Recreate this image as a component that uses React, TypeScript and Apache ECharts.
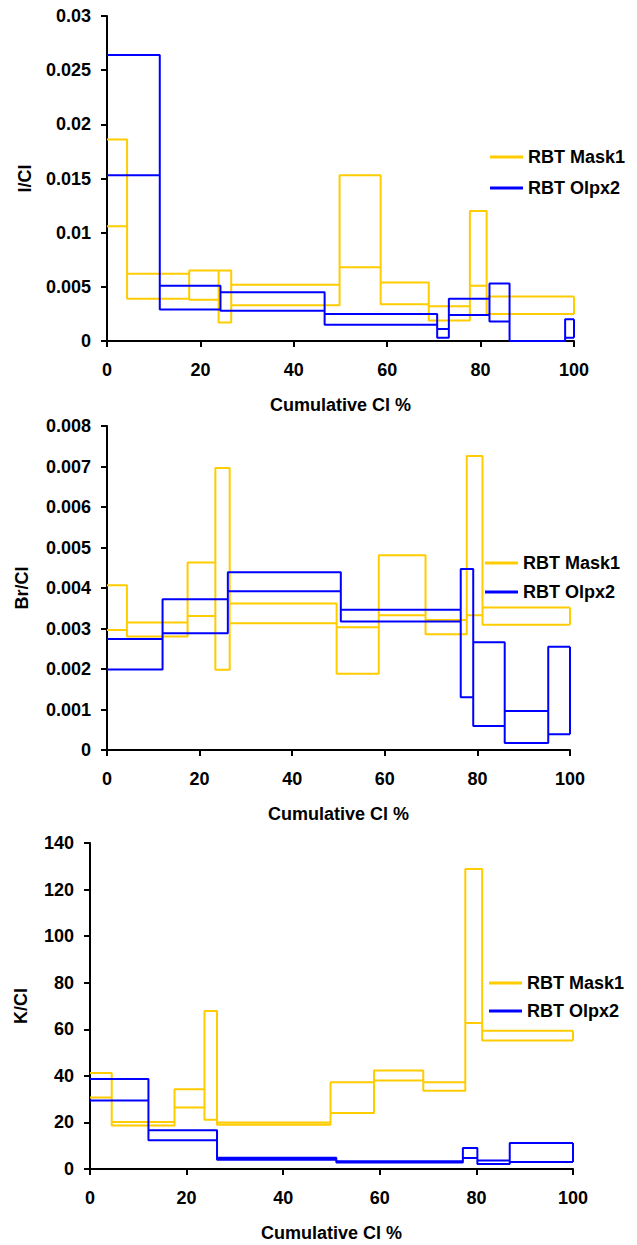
import React, { useEffect, useRef } from "react";
import * as echarts from "echarts";

// ---------- data ----------
const SERIES_NAMES = ["RBT Mask1", "RBT Olpx2"];
const X_TICKS = [0, 20, 40, 60, 80, 100];

// Panel 1: I/Cl
const I_MASK_EDGES = [0, 4.3, 17.6, 23.9, 26.6, 49.8, 58.6, 68.9, 77.7, 81.3, 100];
const I_MASK_HI = [0.0186, 0.0062, 0.0065, 0.0065, 0.0052, 0.0153, 0.0054, 0.0032, 0.012, 0.0041];
const I_MASK_LO = [0.0106, 0.0039, 0.0038, 0.0017, 0.0033, 0.0068, 0.0034, 0.0019, 0.0051, 0.0025];
const I_OLPX_EDGES = [0, 11.3, 24.3, 46.6, 70.7, 73.2, 81.9, 86.2, 98.1, 100];
const I_OLPX_HI = [0.0264, 0.0051, 0.0045, 0.0025, 0.0011, 0.0039, 0.0053, 0, 0.002];
const I_OLPX_LO = [0.0153, 0.0029, 0.0028, 0.0015, 0.0003, 0.0024, 0.0018, 0, 0.0003];

// Panel 2: Br/Cl
const BR_MASK_EDGES = [0, 4.3, 17.4, 23.4, 26.5, 49.6, 58.7, 68.8, 77.7, 81.1, 100];
const BR_MASK_HI = [0.00407, 0.00315, 0.00463, 0.00696, 0.00362, 0.00303, 0.00481, 0.00321, 0.00726, 0.00352];
const BR_MASK_LO = [0.00296, 0.0028, 0.00331, 0.00198, 0.00313, 0.00188, 0.00333, 0.00286, 0.00333, 0.00309];
const BR_OLPX_EDGES = [0, 12.0, 26.1, 50.5, 76.4, 79.1, 85.9, 95.3, 100];
const BR_OLPX_HI = [0.00274, 0.00372, 0.00439, 0.00346, 0.00447, 0.00266, 0.00096, 0.00255];
const BR_OLPX_LO = [0.00199, 0.00288, 0.00392, 0.00317, 0.0013, 0.00059, 0.00017, 0.00039];

// Panel 3: K/Cl
const K_MASK_EDGES = [0, 4.5, 17.5, 23.7, 26.3, 49.8, 58.8, 69.0, 77.7, 81.2, 100];
const K_MASK_HI = [41.2, 20.2, 34.3, 67.9, 20.0, 37.3, 42.3, 37.3, 128.8, 59.4];
const K_MASK_LO = [30.7, 18.7, 26.4, 21.2, 19.0, 24.0, 38.0, 33.6, 62.7, 55.2];
const K_OLPX_EDGES = [0, 12.1, 26.3, 51.0, 77.2, 80.2, 86.9, 100];
const K_OLPX_HI = [38.6, 16.6, 4.8, 3.3, 9.0, 3.7, 11.2];
const K_OLPX_LO = [29.4, 12.3, 4.0, 2.8, 4.7, 2.1, 3.0];

const Y_NAMES = ["I/Cl", "Br/Cl", "K/Cl"];
const Y_MAX = [0.03, 0.008, 140];
const Y_INTERVAL = [0.005, 0.001, 20];

// ---------- styling ----------
const FONT = '"Liberation Sans", Arial, sans-serif';
const YELLOW = "#FFCC00";
const BLUE = "#0000FF";

type Pt = [number | string, number | string];

function outline(edges: number[], hi: number[], lo: number[]): Pt[] {
  const pts: Pt[] = [];
  const gap = () => pts.push(["-", "-"]);
  for (let i = 0; i < hi.length; i++) {
    pts.push([edges[i], hi[i]]);
    pts.push([edges[i + 1], hi[i]]);
  }
  gap();
  for (let i = 0; i < lo.length; i++) {
    pts.push([edges[i], lo[i]]);
    pts.push([edges[i + 1], lo[i]]);
  }
  gap();
  for (let i = 1; i < edges.length; i++) {
    const vals = [hi[i - 1], lo[i - 1]];
    if (i < hi.length) vals.push(hi[i], lo[i]);
    pts.push([edges[i], Math.min(...vals)]);
    pts.push([edges[i], Math.max(...vals)]);
    gap();
  }
  return pts;
}

const GRIDS = [
  { left: 107, top: 16, width: 467, height: 325 },
  { left: 107, top: 426, width: 463, height: 324 },
  { left: 90, top: 843, width: 483, height: 326 },
];
const Y_NAME_GAP = [73, 76, 60];
const LEGENDS = [
  { left: 490, top: 148, itemGap: 13 },
  { left: 485, top: 554, itemGap: 11 },
  { left: 489, top: 974, itemGap: 10 },
];

const bold = { fontFamily: FONT, fontWeight: "bold" as const, fontSize: 18, color: "#000" };

export default function App() {
  const ref = useRef<HTMLDivElement>(null);
  useEffect(() => {
    if (!ref.current) return;
    const chart = echarts.init(ref.current, undefined, { renderer: "svg" });

    const panels = [
      [outline(I_MASK_EDGES, I_MASK_HI, I_MASK_LO), outline(I_OLPX_EDGES, I_OLPX_HI, I_OLPX_LO)],
      [outline(BR_MASK_EDGES, BR_MASK_HI, BR_MASK_LO), outline(BR_OLPX_EDGES, BR_OLPX_HI, BR_OLPX_LO)],
      [outline(K_MASK_EDGES, K_MASK_HI, K_MASK_LO), outline(K_OLPX_EDGES, K_OLPX_HI, K_OLPX_LO)],
    ];
    const colors = [YELLOW, BLUE];

    const series: any[] = [];
    panels.forEach((pair, gi) => {
      pair.forEach((data, si) => {
        series.push({
          type: "line",
          name: SERIES_NAMES[si],
          xAxisIndex: gi,
          yAxisIndex: gi,
          data,
          showSymbol: false,
          symbol: "none",
          connectNulls: false,
          clip: false,
          color: colors[si],
          lineStyle: { color: colors[si], width: 2 },
          z: 3 + si,
        });
      });
    });

    const axisLine = { show: true, onZero: false, lineStyle: { color: "#000", width: 2 } };
    const axisTick = { show: true, inside: false, length: 6, lineStyle: { color: "#000", width: 2 } };

    chart.setOption({
      animation: false,
      backgroundColor: "#fff",
      grid: GRIDS.map((g) => ({ ...g, containLabel: false })),
      xAxis: GRIDS.map((_, gi) => ({
        type: "value",
        gridIndex: gi,
        min: X_TICKS[0],
        max: X_TICKS[X_TICKS.length - 1],
        interval: X_TICKS[1] - X_TICKS[0],
        name: "Cumulative Cl %",
        nameLocation: "middle",
        nameGap: 55,
        nameTextStyle: { ...bold },
        axisLine,
        axisTick,
        axisLabel: { ...bold, margin: 20 },
        splitLine: { show: false },
      })),
      yAxis: GRIDS.map((_, gi) => ({
        type: "value",
        gridIndex: gi,
        min: 0,
        max: Y_MAX[gi],
        interval: Y_INTERVAL[gi],
        name: Y_NAMES[gi],
        nameLocation: "middle",
        nameRotate: 90,
        nameGap: Y_NAME_GAP[gi],
        nameTextStyle: { ...bold },
        axisLine,
        axisTick,
        axisLabel: {
          ...bold,
          margin: 16,
          formatter: (v: number) => String(parseFloat(v.toFixed(6))),
        },
        splitLine: { show: false },
      })),
      legend: LEGENDS.map((l) => ({
        orient: "vertical",
        left: l.left,
        top: l.top,
        itemGap: l.itemGap,
        itemWidth: 33,
        itemHeight: 3,
        padding: 0,
        selectedMode: false,
        textStyle: { ...bold },
        data: SERIES_NAMES.map((n) => ({ name: n, icon: "rect" })),
      })),
      series,
    });

    return () => chart.dispose();
  }, []);

  return (
    <div
      ref={ref}
      style={{ position: "absolute", left: 0, top: 0, width: 637, height: 1245, background: "#fff" }}
    />
  );
}
